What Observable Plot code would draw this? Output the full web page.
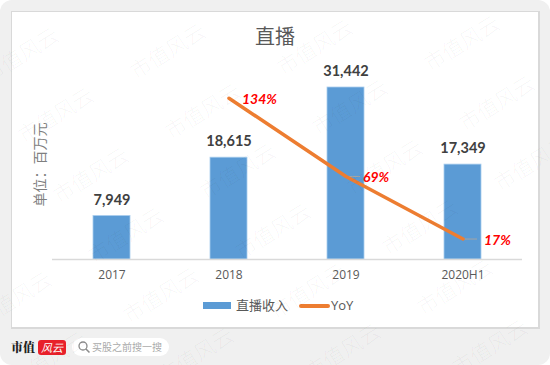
<!DOCTYPE html>
<html><head><meta charset="utf-8">
<script src="https://cdn.jsdelivr.net/npm/d3@7"></script>
<script src="https://cdn.jsdelivr.net/npm/@observablehq/plot@0.6"></script>
<style>
html,body{margin:0;padding:0;background:#fff;}
#page{position:relative;width:550px;height:365px;overflow:hidden;background:#f0f0f0;border-radius:12px;font-family:"Noto Sans CJK SC","Open Sans",sans-serif;}
#card{position:absolute;left:11px;top:11px;width:526px;height:315px;background:#fff;border:1px solid #d9d9d9;border-bottom-width:2px;border-right-width:2px;}
#chart{position:absolute;left:0;top:0;}
#chart svg{background:transparent;display:block;}
.abs{position:absolute;white-space:nowrap;}
#title{left:0;width:550px;top:21px;text-align:center;font-size:20px;line-height:30px;color:#595959;}
.lg{top:296px;font-size:13px;line-height:18px;color:#595959;}
.wm{position:absolute;font-size:21px;line-height:24px;width:90px;text-align:center;color:rgba(0,0,0,.045);transform:translate(-50%,-50%) rotate(-32deg);font-weight:300;white-space:nowrap;}
#pill{left:72px;top:338px;width:97px;height:18px;border-radius:9px;background:#fff;}
</style></head><body>
<div id="page">
  <div id="card"></div>
  <div id="chart"></div>
  <div class="abs" id="title">直播</div>
  <div class="abs" style="left:203px;top:302px;width:28px;height:7px;background:#5B9BD5"></div>
  <div class="abs lg" style="left:236px">直播收入</div>
  <div class="abs" style="left:299px;top:304px;width:31px;height:3.5px;border-radius:2px;background:#ED7D31"></div>
  <div class="abs lg" style="left:331px;font-family:'Open Sans'">YoY</div>
  <div class="abs" style="left:11px;top:337px;font-family:'Noto Serif CJK SC','Noto Sans CJK SC';font-weight:900;font-size:12px;line-height:20px;color:#222">市值</div>
  <div class="abs" style="left:38px;top:340px;width:28px;height:15px;background:#e8202a;border-radius:3px;color:#fff;font-size:11px;line-height:15px;text-align:center;font-style:italic">风云</div>
  <div class="abs" id="pill">
    <svg width="14" height="14" style="position:absolute;left:5px;top:2px"><circle cx="6" cy="6" r="4" fill="none" stroke="#8a8a8a" stroke-width="1.3"/><line x1="9" y1="9" x2="12.5" y2="12.5" stroke="#8a8a8a" stroke-width="1.5"/></svg>
    <div class="abs" style="left:20px;top:0;font-size:10px;line-height:18px;color:#aaa">买股之前搜一搜</div>
  </div>
</div>
<script>
const categories = ["2017", "2018", "2019", "2020H1"];
const revenue = [7949, 18615, 31442, 17349];
const revenueLabels = ["7,949", "18,615", "31,442", "17,349"];
const yoyYears = ["2018", "2019", "2020H1"];
const yoyValues = [134, 69, 17];
const yoyLabels = ["134%", "69%", "17%"];
const yoyScale = 220; // secondary-axis factor: one percentage point in revenue units

const bars = categories.map((c, i) => ({c, v: revenue[i], label: revenueLabels[i]}));
const yoy = yoyYears.map((c, i) => ({c, y: yoyValues[i] * yoyScale, label: yoyLabels[i]}));

const FONT = "Lato, 'Open Sans', sans-serif";
const pct = (c, dx) => Plot.text(yoy.filter((d) => d.c === c), {x: "c", y: "y", text: "label", textAnchor: "start", dx, dy: 1, fontSize: 14, fontWeight: 700, fontStyle: "italic", fill: "#ff0000", fontFamily: FONT});
const plot = Plot.plot({
  width: 550, height: 365,
  marginLeft: 52, marginRight: 28, marginTop: 12, marginBottom: 106,
  style: {background: "transparent", fontFamily: "'Open Sans', sans-serif"},
  x: {domain: categories, paddingInner: 0.685, paddingOuter: 0.3425, align: 0.5, label: null},
  y: {domain: [0, 45155], axis: null},
  marks: [
    Plot.barY(bars, {x: "c", y: "v", fill: "#5B9BD5", stroke: "#a9cdee", strokeWidth: 0.8}),
    Plot.ruleY([0], {stroke: "#d9d9d9", strokeWidth: 1.5}),
    Plot.axisX({tickSize: 0, tickPadding: 11, fontSize: 12, color: "#595959", label: null}),
    Plot.text(bars, {x: "c", y: "v", text: "label", dy: -16, fontSize: 14.5, fontWeight: 700, fill: "#404040", fontFamily: FONT}),
    Plot.tickY(yoy.slice(1), {x: "c", y: "y", stroke: "#a6a6a6", strokeWidth: 1, insetLeft: 19, insetRight: 4}),
    Plot.line(yoy, {x: "c", y: "y", stroke: "#ED7D31", strokeWidth: 3.5, strokeLinecap: "round", curve: "linear"}),
    pct("2018", 13),
    pct("2019", 17),
    pct("2020H1", 21),
    Plot.text(["单位：百万元"], {frameAnchor: "left", dx: -12, dy: 70.5, rotate: -90, fontSize: 14, fill: "#7f7f7f", fontFamily: "'Noto Sans CJK SC'"})
  ]
});
document.getElementById("chart").appendChild(plot);

// faint repeating watermark
const page = document.getElementById("page");
for (let i = -1; i < 5; i++) for (let j = -1; j < 7; j++) {
  const cx = 20 + i * 147 + j * 35, cy = 54 - i * 4 + j * 60;
  if (cx < 0 || cx > 550 || cy < 0 || cy > 365) continue;
  const w = document.createElement("div");
  w.className = "wm";
  w.textContent = "市值风云";
  w.style.left = cx + "px";
  w.style.top = cy + "px";
  page.appendChild(w);
}
</script>
</body></html>
